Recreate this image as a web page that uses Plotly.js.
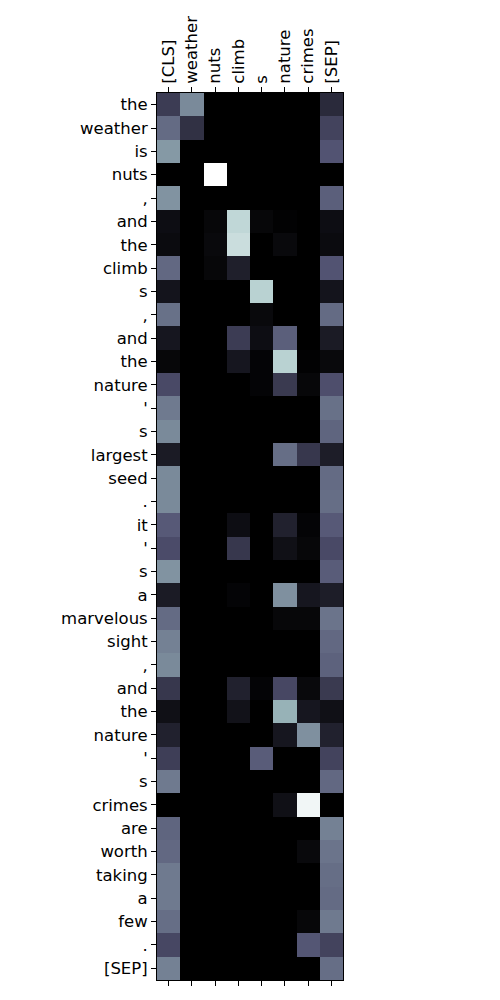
<!DOCTYPE html>
<html>
<head>
<meta charset="utf-8">
<script src="https://cdn.plot.ly/plotly-3.0.1.min.js"></script>
<style>html,body{margin:0;padding:0;background:#fff;}#chart{width:500px;height:1000px;}</style>
</head>
<body>
<div id="chart"></div>
<script>
const colLabels = ["[CLS]", "weather", "nuts", "climb", "s", "nature", "crimes", "[SEP]"];
const rowLabels = ["the", "weather", "is", "nuts", ",", "and", "the", "climb", "s", ",", "and", "the", "nature", "'", "s", "largest", "seed", ".", "it", "'", "s", "a", "marvelous", "sight", ",", "and", "the", "nature", "'", "s", "crimes", "are", "worth", "taking", "a", "few", ".", "[SEP]"];

// attention weights: rows = tokens, columns = [CLS], weather, nuts, climb, s, nature, crimes, [SEP]
const attn = [
  [0.27, 0.55, 0, 0, 0, 0, 0, 0.19],
  [0.45, 0.22, 0, 0, 0, 0, 0, 0.30],
  [0.60, 0, 0, 0, 0, 0, 0, 0.37],
  [0, 0, 1.00, 0, 0, 0, 0, 0],
  [0.58, 0, 0, 0, 0, 0, 0, 0.41],
  [0.06, 0, 0.03, 0.82, 0.03, 0.01, 0, 0.06],
  [0.05, 0, 0.04, 0.85, 0, 0.04, 0, 0.05],
  [0.44, 0, 0.03, 0.14, 0, 0, 0, 0.37],
  [0.09, 0, 0, 0, 0.80, 0, 0, 0.09],
  [0.47, 0, 0, 0, 0.04, 0, 0, 0.45],
  [0.10, 0, 0, 0.27, 0.06, 0.41, 0, 0.12],
  [0.03, 0, 0, 0.10, 0.02, 0.80, 0.01, 0.04],
  [0.33, 0, 0, 0, 0.02, 0.26, 0.03, 0.35],
  [0.50, 0, 0, 0, 0, 0, 0, 0.47],
  [0.55, 0, 0, 0, 0, 0, 0, 0.43],
  [0.12, 0, 0, 0, 0, 0.46, 0.25, 0.13],
  [0.55, 0, 0, 0, 0, 0, 0, 0.45],
  [0.55, 0, 0, 0, 0, 0, 0, 0.46],
  [0.39, 0, 0, 0.06, 0, 0.15, 0.02, 0.39],
  [0.34, 0, 0, 0.25, 0, 0.07, 0.03, 0.33],
  [0.58, 0, 0, 0, 0, 0, 0, 0.40],
  [0.12, 0, 0, 0.02, 0, 0.57, 0.10, 0.13],
  [0.45, 0, 0, 0, 0, 0.03, 0.03, 0.48],
  [0.52, 0, 0, 0, 0, 0, 0, 0.44],
  [0.55, 0, 0, 0, 0, 0, 0, 0.42],
  [0.25, 0, 0, 0.15, 0.02, 0.32, 0.04, 0.26],
  [0.07, 0, 0, 0.08, 0, 0.68, 0.10, 0.07],
  [0.15, 0, 0, 0, 0, 0.10, 0.57, 0.15],
  [0.28, 0, 0, 0, 0.40, 0, 0, 0.30],
  [0.50, 0, 0, 0, 0, 0, 0, 0.44],
  [0, 0, 0, 0, 0, 0.07, 0.96, 0],
  [0.43, 0, 0, 0, 0, 0, 0, 0.52],
  [0.44, 0, 0, 0, 0, 0, 0.04, 0.48],
  [0.50, 0, 0, 0, 0, 0, 0, 0.46],
  [0.50, 0, 0, 0, 0, 0, 0, 0.45],
  [0.46, 0, 0, 0, 0, 0, 0.03, 0.50],
  [0.32, 0, 0, 0, 0, 0, 0.38, 0.30],
  [0.52, 0, 0, 0, 0, 0, 0, 0.46]
];

// matplotlib "bone" colormap
const bone = [
  [0, "rgb(0,0,0)"],
  [0.365079, "rgb(81,81,113)"],
  [0.746032, "rgb(166,198,198)"],
  [1, "rgb(255,255,255)"]
];

const xIdx = colLabels.map((_, i) => i);
const yIdx = rowLabels.map((_, i) => i);

const trace = {
  type: "heatmap",
  z: attn,
  x: xIdx,
  y: yIdx,
  colorscale: bone,
  zmin: 0,
  zmax: 1,
  showscale: false,
  hoverongaps: false
};

const font = {family: "DejaVu Sans, sans-serif", size: 16.5, color: "#000"};

const layout = {
  width: 500,
  height: 1000,
  margin: {l: 157, r: 157, t: 93, b: 20, pad: 0},
  paper_bgcolor: "#fff",
  plot_bgcolor: "#fff",
  font: font,
  xaxis: {
    side: "top",
    tickmode: "array",
    tickvals: xIdx,
    ticktext: colLabels,
    tickangle: -90,
    ticks: "outside",
    ticklen: 5,
    tickwidth: 1,
    tickcolor: "#000",
    showline: true,
    linecolor: "#000",
    linewidth: 1,
    mirror: "ticks",
    showgrid: false,
    zeroline: false,
    range: [-0.5, 7.5],
    tickfont: font
  },
  yaxis: {
    tickmode: "array",
    tickvals: yIdx,
    ticktext: rowLabels,
    ticks: "outside",
    ticklen: 5,
    tickwidth: 1,
    tickcolor: "#000",
    showline: true,
    linecolor: "#000",
    linewidth: 1,
    mirror: true,
    showgrid: false,
    zeroline: false,
    range: [37.5, -0.5],
    tickfont: font
  }
};

Plotly.newPlot("chart", [trace], layout, {displayModeBar: false, staticPlot: true});
</script>
</body>
</html>
